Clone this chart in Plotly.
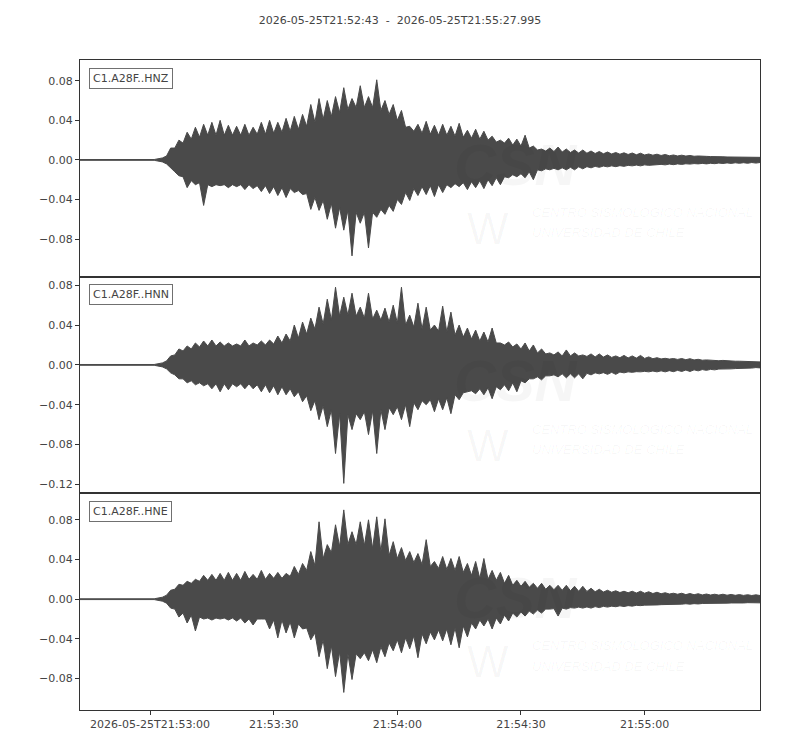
import numpy as np
import pandas as pd
import plotly.graph_objects as go
from plotly.subplots import make_subplots

# Trace window
start = pd.Timestamp("2026-05-25 21:52:43")
end = pd.Timestamp("2026-05-25 21:55:27.995")
title_text = "2026-05-25T21:52:43  -  2026-05-25T21:55:27.995"

channels = ["C1.A28F..HNZ", "C1.A28F..HNN", "C1.A28F..HNE"]

# spike tips read every 2 s from the P onset (even seconds after start)
spike_t = list(range(20, 165, 2))
# dense body of the waveform, read between the tips (odd seconds) and at the end
body_t = list(range(21, 165, 2)) + [165]
# quiet part before the P onset
quiet_t = [0, 18]
quiet = [0.0004, 0.0004]

# spike tips, positive / negative, t = 20..164 s
hnz_up = [0.002, 0.012, 0.020, 0.028, 0.033, 0.036, 0.038, 0.040, 0.035, 0.034,
          0.036, 0.033, 0.038, 0.040, 0.038, 0.042, 0.044, 0.046, 0.056, 0.062,
          0.060, 0.064, 0.073, 0.062, 0.075, 0.064, 0.081, 0.060, 0.056, 0.050,
          0.034, 0.036, 0.039, 0.035, 0.036, 0.034, 0.037, 0.030, 0.031, 0.029,
          0.024, 0.020, 0.022, 0.021, 0.025, 0.014, 0.011, 0.012, 0.013, 0.011,
          0.010, 0.010, 0.009, 0.0085, 0.008, 0.0075, 0.0072, 0.007, 0.0068, 0.006,
          0.0058, 0.0055, 0.005, 0.0048, 0.0045, 0.004, 0.0036, 0.0035, 0.0032, 0.003,
          0.003, 0.0028, 0.0025]
hnz_lo = [-0.002, -0.008, -0.016, -0.028, -0.025, -0.046, -0.027, -0.026, -0.028, -0.027,
          -0.030, -0.029, -0.032, -0.034, -0.036, -0.038, -0.033, -0.035, -0.050, -0.051,
          -0.060, -0.069, -0.071, -0.097, -0.064, -0.089, -0.058, -0.055, -0.052, -0.045,
          -0.041, -0.036, -0.035, -0.037, -0.033, -0.028, -0.027, -0.030, -0.028, -0.029,
          -0.026, -0.025, -0.018, -0.017, -0.018, -0.020, -0.011, -0.010, -0.010, -0.010,
          -0.010, -0.009, -0.008, -0.0075, -0.007, -0.0068, -0.0065, -0.006, -0.006, -0.0055,
          -0.005, -0.005, -0.0048, -0.0045, -0.0042, -0.004, -0.004, -0.0038, -0.0036, -0.0035,
          -0.0034, -0.0034, -0.0032]
# body half-width, t = 21..163 s (odd) and 165 s
hnz_body = [0.004, 0.012, 0.017, 0.021, 0.023, 0.025, 0.025, 0.025, 0.025, 0.025,
            0.025, 0.026, 0.026, 0.027, 0.028, 0.029, 0.031, 0.034, 0.038, 0.041,
            0.044, 0.048, 0.051, 0.053, 0.053, 0.053, 0.050, 0.046, 0.040, 0.033,
            0.029, 0.027, 0.026, 0.025, 0.025, 0.024, 0.023, 0.022, 0.021, 0.020,
            0.018, 0.017, 0.015, 0.014, 0.012, 0.010, 0.009, 0.0085, 0.008, 0.0075,
            0.007, 0.0068, 0.0065, 0.0062, 0.006, 0.0058, 0.0055, 0.0052, 0.005, 0.0048,
            0.0045, 0.0042, 0.004, 0.0039, 0.0037, 0.0035, 0.0034, 0.0032, 0.003, 0.0029,
            0.0028, 0.0026, 0.0026]

hnn_up = [0.002, 0.009, 0.016, 0.019, 0.022, 0.024, 0.025, 0.023, 0.022, 0.021,
          0.025, 0.022, 0.024, 0.025, 0.029, 0.031, 0.040, 0.043, 0.047, 0.058,
          0.066, 0.078, 0.068, 0.072, 0.058, 0.072, 0.055, 0.057, 0.060, 0.078,
          0.050, 0.062, 0.058, 0.040, 0.059, 0.053, 0.040, 0.037, 0.035, 0.033,
          0.037, 0.022, 0.023, 0.021, 0.022, 0.020, 0.016, 0.012, 0.013, 0.015,
          0.012, 0.010, 0.011, 0.011, 0.010, 0.009, 0.0095, 0.009, 0.0095, 0.008,
          0.0072, 0.0066, 0.0064, 0.0064, 0.0062, 0.0056, 0.005, 0.0047, 0.0045, 0.004,
          0.0037, 0.0034, 0.003]
hnn_lo = [-0.002, -0.008, -0.014, -0.018, -0.020, -0.021, -0.024, -0.027, -0.025, -0.022,
          -0.024, -0.024, -0.027, -0.028, -0.030, -0.030, -0.032, -0.037, -0.046, -0.055,
          -0.062, -0.089, -0.119, -0.065, -0.055, -0.070, -0.089, -0.065, -0.050, -0.055,
          -0.062, -0.045, -0.040, -0.047, -0.045, -0.049, -0.035, -0.027, -0.029, -0.030,
          -0.034, -0.025, -0.026, -0.027, -0.018, -0.014, -0.015, -0.011, -0.012, -0.013,
          -0.013, -0.014, -0.010, -0.009, -0.0095, -0.0095, -0.008, -0.0075, -0.007, -0.007,
          -0.007, -0.007, -0.0068, -0.0066, -0.0066, -0.006, -0.0055, -0.005, -0.0045, -0.004,
          -0.0038, -0.0032, -0.0027]
hnn_body = [0.004, 0.010, 0.014, 0.016, 0.018, 0.019, 0.019, 0.019, 0.019, 0.019,
            0.019, 0.020, 0.020, 0.021, 0.022, 0.024, 0.027, 0.031, 0.036, 0.041,
            0.045, 0.049, 0.050, 0.049, 0.047, 0.046, 0.045, 0.043, 0.042, 0.040,
            0.038, 0.036, 0.035, 0.034, 0.033, 0.030, 0.028, 0.026, 0.024, 0.023,
            0.022, 0.020, 0.018, 0.016, 0.014, 0.012, 0.011, 0.010, 0.009, 0.009,
            0.009, 0.0085, 0.008, 0.0078, 0.0075, 0.0072, 0.007, 0.0068, 0.0065, 0.0062,
            0.006, 0.0058, 0.0055, 0.0052, 0.005, 0.0047, 0.0045, 0.0042, 0.004, 0.0037,
            0.0035, 0.0032, 0.003]

hne_up = [0.002, 0.009, 0.015, 0.018, 0.020, 0.024, 0.025, 0.026, 0.027, 0.026,
          0.028, 0.025, 0.029, 0.026, 0.027, 0.026, 0.033, 0.036, 0.048, 0.078,
          0.055, 0.075, 0.090, 0.068, 0.078, 0.080, 0.083, 0.081, 0.058, 0.052,
          0.048, 0.046, 0.060, 0.038, 0.043, 0.041, 0.043, 0.036, 0.038, 0.041,
          0.029, 0.027, 0.024, 0.019, 0.018, 0.016, 0.016, 0.014, 0.014, 0.014,
          0.013, 0.013, 0.011, 0.010, 0.009, 0.0085, 0.008, 0.008, 0.008, 0.0075,
          0.007, 0.0065, 0.006, 0.006, 0.0057, 0.0055, 0.0052, 0.005, 0.005, 0.0048,
          0.0046, 0.0045, 0.0044]
hne_lo = [-0.002, -0.009, -0.018, -0.024, -0.032, -0.020, -0.021, -0.020, -0.021, -0.022,
          -0.024, -0.026, -0.020, -0.030, -0.039, -0.034, -0.039, -0.030, -0.041, -0.058,
          -0.070, -0.078, -0.094, -0.081, -0.060, -0.062, -0.064, -0.058, -0.052, -0.054,
          -0.050, -0.059, -0.045, -0.041, -0.042, -0.046, -0.049, -0.038, -0.030, -0.027,
          -0.030, -0.025, -0.022, -0.018, -0.017, -0.015, -0.014, -0.010, -0.017, -0.010,
          -0.009, -0.009, -0.009, -0.0085, -0.008, -0.0076, -0.0074, -0.007, -0.0065, -0.006,
          -0.0058, -0.0056, -0.0052, -0.005, -0.005, -0.0048, -0.0045, -0.0042, -0.004, -0.0038,
          -0.0036, -0.0035, -0.0034]
hne_body = [0.004, 0.010, 0.014, 0.016, 0.018, 0.019, 0.019, 0.019, 0.019, 0.019,
            0.020, 0.020, 0.020, 0.021, 0.021, 0.023, 0.025, 0.029, 0.034, 0.041,
            0.047, 0.053, 0.055, 0.055, 0.054, 0.051, 0.048, 0.044, 0.041, 0.039,
            0.037, 0.035, 0.033, 0.031, 0.030, 0.029, 0.027, 0.024, 0.021, 0.020,
            0.019, 0.016, 0.014, 0.013, 0.012, 0.011, 0.010, 0.0095, 0.009, 0.0085,
            0.008, 0.0078, 0.0075, 0.0072, 0.007, 0.0067, 0.0065, 0.0062, 0.006, 0.0057,
            0.0055, 0.0052, 0.005, 0.0046, 0.0045, 0.0043, 0.0042, 0.0041, 0.004, 0.0039,
            0.0038, 0.0037, 0.0037]

waves = [(hnz_up, hnz_lo, hnz_body), (hnn_up, hnn_lo, hnn_body), (hne_up, hne_lo, hne_body)]

y_ranges = [[-0.118, 0.101], [-0.129, 0.0886], [-0.1117, 0.1067]]
y_ticks = [[-0.08, -0.04, 0.0, 0.04, 0.08],
           [-0.12, -0.08, -0.04, 0.0, 0.04, 0.08],
           [-0.08, -0.04, 0.0, 0.04, 0.08]]

x_tickvals = ["2026-05-25 21:53:00", "2026-05-25 21:53:30", "2026-05-25 21:54:00",
              "2026-05-25 21:54:30", "2026-05-25 21:55:00"]
x_ticktext = ["2026-05-25T21:53:00", "21:53:30", "21:54:00", "21:54:30", "21:55:00"]

trace_color = "#4a4a4a"
text_color = "#444444"
font_family = "DejaVu Sans"


def outline(tips, body, sign):
    # merge quiet part, tips and body readings into one time-ordered edge
    pts = list(zip(quiet_t, [sign * q for q in quiet]))
    pts += list(zip(spike_t, tips)) + list(zip(body_t, [sign * b for b in body]))
    pts.sort(key=lambda p: p[0])
    secs = np.array([p[0] for p in pts], dtype=float)
    return start + pd.to_timedelta(secs, unit="s"), [p[1] for p in pts]


fig = make_subplots(rows=3, cols=1, shared_xaxes=True, vertical_spacing=0)

for i, (up, lo, body) in enumerate(waves):
    row = i + 1
    tu, yu = outline(up, body, 1)
    tl, yl = outline(lo, body, -1)
    xs = list(tu) + list(tl[::-1])
    ys = yu + yl[::-1]
    fig.add_trace(go.Scatter(x=xs, y=ys, mode="lines", fill="toself",
                             fillcolor=trace_color,
                             line=dict(color=trace_color, width=1),
                             hoverinfo="skip", showlegend=False),
                  row=row, col=1)

    fig.update_yaxes(range=y_ranges[i], tickvals=y_ticks[i], tickformat=".2f",
                     row=row, col=1)

    xref = "x domain" if i == 0 else "x%d domain" % row
    yref = "y domain" if i == 0 else "y%d domain" % row

    # station label box
    fig.add_annotation(text=channels[i], xref=xref, yref=yref, x=0.013, y=0.965,
                       xanchor="left", yanchor="top", showarrow=False,
                       font=dict(size=11, color=text_color, family=font_family),
                       bordercolor="#707070", borderwidth=1, borderpad=3,
                       bgcolor="white")

    # faint CSN watermark
    wm = "rgba(0,0,0,0.035)"
    fig.add_annotation(text="<b><i>CSN</i></b>", xref=xref, yref=yref, x=0.641, y=0.52,
                       showarrow=False, font=dict(size=58, color=wm, family="Liberation Sans"))
    fig.add_annotation(text="W", xref=xref, yref=yref, x=0.60, y=0.10,
                       showarrow=False, font=dict(size=44, color=wm, family="Liberation Sans"))
    fig.add_annotation(text="<i>CENTRO SISMOLÓGICO NACIONAL</i>", xref=xref, yref=yref,
                       x=0.662, y=0.253, xanchor="left", showarrow=False,
                       font=dict(size=13, color=wm, family="Liberation Sans"))
    fig.add_annotation(text="<i>UNIVERSIDAD DE CHILE</i>", xref=xref, yref=yref,
                       x=0.662, y=0.158, xanchor="left", showarrow=False,
                       font=dict(size=13, color=wm, family="Liberation Sans"))

fig.update_xaxes(range=[start, end], showline=True, mirror=True, linecolor="#333333",
                 linewidth=1, showgrid=False, zeroline=False)
fig.update_xaxes(tickvals=x_tickvals, ticktext=x_ticktext, ticks="outside", ticklen=4,
                 tickcolor="#333333", row=3, col=1)
fig.update_yaxes(showline=True, mirror=True, linecolor="#333333", linewidth=1,
                 showgrid=False, zeroline=False, ticks="outside", ticklen=4,
                 tickcolor="#333333")

fig.update_layout(
    width=800, height=750,
    margin=dict(l=72, r=48, t=52, b=48),
    plot_bgcolor="white", paper_bgcolor="white",
    font=dict(family=font_family, size=11, color=text_color),
    title=dict(text=title_text, x=0.49, xref="container", xanchor="center",
               y=0.984, yanchor="middle", font=dict(size=11, color=text_color)),
)

fig.write_html("out.html")
